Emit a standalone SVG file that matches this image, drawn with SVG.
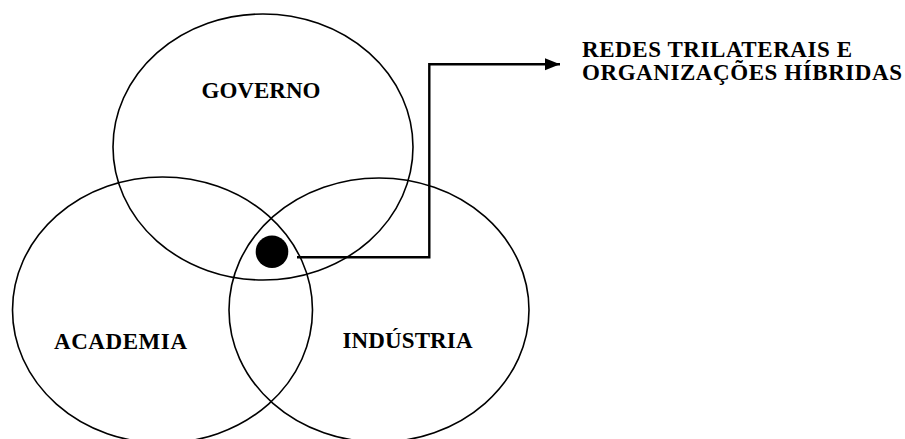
<svg xmlns="http://www.w3.org/2000/svg" width="905" height="439" viewBox="0 0 905 439">
  <style>
    .ring { fill: none; stroke: #000; stroke-width: 1.6; }
    .lbl { font-family: "Liberation Serif", "Times New Roman", serif; font-weight: bold; font-size: 23px; fill: #000; }
    .conn { fill: none; stroke: #000; stroke-width: 2.4; }
  </style>
  <defs>
    <marker id="arrow" markerUnits="userSpaceOnUse" markerWidth="16" markerHeight="13" refX="15" refY="6.5" orient="auto">
      <path d="M0,0.5 L15,6.5 L0,12.5 z" fill="#000"/>
    </marker>
  </defs>
  <rect width="905" height="439" fill="#fff"/>
  <g id="governo">
    <ellipse class="ring" cx="263" cy="147" rx="150" ry="133"/>
    <text class="lbl" x="261" y="98" text-anchor="middle" textLength="119">GOVERNO</text>
  </g>
  <g id="academia">
    <ellipse class="ring" cx="162.5" cy="310" rx="150" ry="133"/>
    <text class="lbl" x="120.5" y="349" text-anchor="middle" textLength="133">ACADEMIA</text>
  </g>
  <g id="industria">
    <ellipse class="ring" cx="379" cy="310" rx="150" ry="132"/>
    <text class="lbl" x="407.5" y="348" text-anchor="middle" textLength="130">INDÚSTRIA</text>
  </g>
  <g id="hub">
    <circle cx="272" cy="251.7" r="16.3" fill="#000"/>
  </g>
  <g id="redes">
    <text class="lbl" x="582" y="56.7" textLength="270">REDES TRILATERAIS E</text>
    <text class="lbl" x="582" y="80" textLength="320">ORGANIZAÇÕES HÍBRIDAS</text>
  </g>
  <g id="connectors">
    <polyline class="conn" points="297,257.3 429.3,257.3 429.3,64.3 560,64.3" marker-end="url(#arrow)"/>
  </g>
</svg>
